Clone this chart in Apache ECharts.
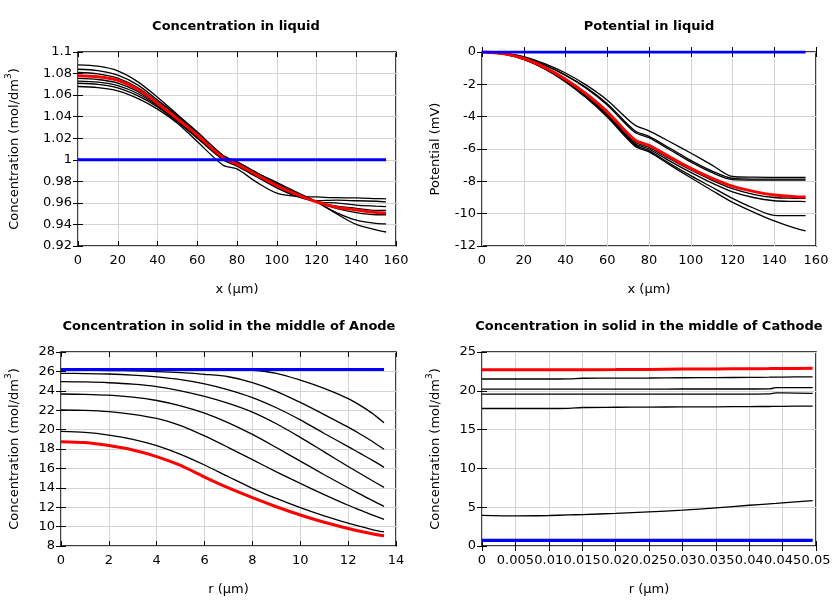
<!DOCTYPE html>
<html><head><meta charset="utf-8">
<script src="https://cdn.jsdelivr.net/npm/echarts@6/dist/echarts.min.js"></script>
<style>html,body{margin:0;padding:0;background:#fff}#c{width:840px;height:600px}</style>
</head><body><div id="c"></div><script>
// ---------- Panel 1: Concentration in liquid ----------
const liqX = [0,10,20,30,40,50,60,73,80,90,100,110,120,130,140,150,155];
const liqConcInit = [1,1,1,1,1,1,1,1,1,1,1,1,1,1,1,1,1];
const liqConcA = [1.088,1.0868,1.0825,1.0725,1.058,1.042,1.026,1.004,0.998,0.988,0.979,0.970,0.961,0.950,0.940,0.935,0.933];
const liqConcB = [1.084,1.0828,1.0785,1.0695,1.0555,1.041,1.025,1.004,0.998,0.988,0.978,0.969,0.961,0.951,0.944,0.941,0.9405];
const liqConcC = [1.081,1.0798,1.0758,1.067,1.054,1.040,1.025,1.003,0.997,0.987,0.977,0.968,0.961,0.955,0.951,0.949,0.949];
const liqConcE = [1.0755,1.0745,1.0712,1.0635,1.051,1.037,1.022,1.001,0.995,0.985,0.975,0.967,0.961,0.957,0.955,0.953,0.953];
const liqConcF = [1.073,1.072,1.0688,1.0615,1.050,1.036,1.021,1.001,0.995,0.985,0.975,0.967,0.961,0.960,0.958,0.957,0.9566];
const liqConcG = [1.071,1.070,1.0668,1.0595,1.049,1.035,1.020,1.000,0.994,0.984,0.974,0.966,0.962,0.9625,0.962,0.9615,0.961];
const liqConcH = [1.068,1.067,1.064,1.057,1.047,1.034,1.017,0.995,0.9915,0.979,0.969,0.966,0.9655,0.9648,0.9646,0.964,0.9637];
const liqConcFinal = [1.078,1.077,1.0738,1.0655,1.0525,1.038,1.023,1.002,0.996,0.986,0.976,0.968,0.961,0.956,0.9535,0.951,0.9507];

// ---------- Panel 2: Potential in liquid ----------
const potInit = [0,0,0,0,0,0,0,0,0,0,0,0,0,0,0,0,0];
const potA = [0,-0.07,-0.28,-0.72,-1.30,-2.05,-2.98,-4.50,-4.88,-5.55,-6.25,-6.98,-7.70,-7.74,-7.75,-7.75,-7.75];
const potB = [0,-0.08,-0.32,-0.80,-1.42,-2.20,-3.20,-4.85,-5.22,-5.95,-6.70,-7.35,-7.82,-7.86,-7.86,-7.86,-7.86];
const potC = [0,-0.08,-0.33,-0.82,-1.45,-2.25,-3.28,-4.95,-5.30,-6.05,-6.80,-7.45,-7.90,-7.93,-7.93,-7.93,-7.93];
const potD = [0,-0.10,-0.42,-0.98,-1.72,-2.65,-3.78,-5.55,-5.90,-6.62,-7.30,-7.92,-8.45,-8.80,-9.00,-9.05,-9.06];
const potE = [0,-0.11,-0.44,-1.00,-1.76,-2.72,-3.88,-5.65,-6.00,-6.75,-7.45,-8.10,-8.65,-9.00,-9.20,-9.24,-9.25];
const potF = [0,-0.11,-0.45,-1.03,-1.80,-2.78,-3.95,-5.72,-6.10,-6.90,-7.65,-8.35,-9.05,-9.65,-10.10,-10.12,-10.12];
const potG = [0,-0.12,-0.46,-1.05,-1.85,-2.85,-4.02,-5.80,-6.18,-6.98,-7.78,-8.55,-9.30,-9.90,-10.45,-10.90,-11.07];
const potFinal = [0,-0.10,-0.40,-0.95,-1.68,-2.60,-3.70,-5.42,-5.78,-6.50,-7.20,-7.80,-8.30,-8.62,-8.85,-8.95,-8.97];

// ---------- Panel 3: Anode solid concentration ----------
const anR = [0,1,2,3,4,5,6,7,8,9,10,11,12,12.5,13,13.5];
const anInit = [26.2,26.2,26.2,26.2,26.2,26.2,26.2,26.2,26.2,26.2,26.2,26.2,26.2,26.2,26.2,26.2];
const an1 = [26.2,26.2,26.2,26.2,26.2,26.2,26.2,26.19,26.12,25.8,25.1,24.25,23.2,22.5,21.7,20.7];
const an2 = [26.12,26.11,26.09,26.05,25.98,25.87,25.7,25.45,24.85,23.95,22.8,21.55,20.25,19.55,18.8,17.97];
const an3 = [25.8,25.78,25.73,25.62,25.43,25.15,24.72,24.1,23.3,22.25,21.0,19.6,18.25,17.55,16.85,16.11];
const an4 = [24.94,24.91,24.83,24.68,24.43,24.0,23.42,22.7,21.8,20.6,19.2,17.7,16.2,15.47,14.75,14.05];
const an5 = [23.67,23.64,23.55,23.35,23.0,22.45,21.7,20.7,19.5,18.15,16.75,15.35,14.0,13.35,12.7,12.08];
const an6 = [22.02,21.98,21.85,21.58,21.15,20.42,19.35,18.15,16.9,15.65,14.45,13.3,12.2,11.7,11.2,10.75];
const an7 = [19.82,19.72,19.44,19.0,18.35,17.45,16.35,15.14,13.95,12.9,11.95,11.1,10.35,10.02,9.7,9.45];
const anFinal = [18.76,18.66,18.35,17.9,17.22,16.3,15.1,13.98,12.98,12.05,11.2,10.45,9.8,9.52,9.27,9.05];

// ---------- Panel 4: Cathode solid concentration ----------
const caR = [0,0.005,0.01,0.013,0.015,0.02,0.025,0.03,0.035,0.04,0.043,0.044,0.045,0.0495];
const caInit = [0.72,0.72,0.72,0.72,0.72,0.72,0.72,0.72,0.72,0.72,0.72,0.72,0.72,0.72];
const ca1 = [21.52,21.52,21.52,21.53,21.62,21.63,21.65,21.68,21.7,21.73,21.75,21.76,21.77,21.8];
const ca2 = [20.22,20.22,20.22,20.22,20.22,20.22,20.22,20.23,20.23,20.23,20.25,20.4,20.42,20.42];
const ca3 = [19.57,19.57,19.57,19.57,19.57,19.57,19.57,19.58,19.58,19.58,19.6,19.74,19.72,19.66];
const ca4 = [17.72,17.72,17.72,17.73,17.85,17.88,17.9,17.92,17.94,17.97,17.98,17.99,18.0,18.03];
const ca5 = [3.95,3.88,3.93,4.0,4.05,4.2,4.4,4.62,4.92,5.25,5.42,5.48,5.55,5.84];
const ca6 = [0.85,0.85,0.85,0.85,0.85,0.85,0.85,0.85,0.85,0.85,0.85,0.85,0.85,0.85];
const caFinal = [22.72,22.72,22.72,22.72,22.72,22.73,22.76,22.8,22.82,22.85,22.86,22.87,22.88,22.9];

// ---------- Axis definitions ----------
const titles = ['Concentration in liquid','Potential in liquid','Concentration in solid in the middle of Anode','Concentration in solid in the middle of Cathode'];
const xNames = ['x (µm)','x (µm)','r (µm)','r (µm)'];
const xRanges = [[0,160,20],[0,160,20],[0,14,2],[0,0.05,0.005]];
const yRanges = [[0.92,1.1,0.02],[-12,0,2],[8,28,2],[0,25,5]];
const yNames = ['conc','Potential (mV)','conc','conc'];

const FONT = 'DejaVu Sans';
const grids = [
  {left:78, top:52, width:318, height:194},
  {left:482, top:52, width:334, height:194},
  {left:61, top:352, width:335, height:194},
  {left:482, top:352, width:334, height:194}
];
const yNameGaps = [57,40,40,40];
const titleCenters = [[236,20],[649,20],[229,320],[649,320]];

const xAxes = [], yAxes = [];
grids.forEach((g,i)=>{
  const [xmin,xmax,xint] = xRanges[i];
  const [ymin,ymax,yint] = yRanges[i];
  xAxes.push({type:'value', gridIndex:i, min:xmin, max:xmax, interval:xint, position:'bottom',
    name:xNames[i], nameLocation:'middle', nameGap:37,
    nameTextStyle:{fontFamily:FONT, fontSize:13, color:'#000'},
    axisLine:{show:false}, axisTick:{show:true, inside:true, length:5, lineStyle:{color:'#000'}},
    axisLabel:{fontFamily:FONT, fontSize:13, color:'#000', margin:8, hideOverlap:false},
    splitLine:{show:true, lineStyle:{color:'#d4d4d4', width:1}}});
  xAxes.push({type:'value', gridIndex:i, min:xmin, max:xmax, interval:xint, position:'top',
    axisLine:{show:false}, axisTick:{show:true, inside:true, length:5, lineStyle:{color:'#000'}},
    axisLabel:{show:false}, splitLine:{show:false}});
  const yName = yNames[i]==='conc' ? '{a|Concentration (mol/dm}{s|3}{a|)}' : '{a|'+yNames[i]+'}';
  yAxes.push({type:'value', gridIndex:i, min:ymin, max:ymax, interval:yint, position:'left',
    name:yName, nameLocation:'middle', nameGap:yNameGaps[i],
    nameTextStyle:{fontFamily:FONT, fontSize:13, color:'#000',
      rich:{a:{fontFamily:FONT, fontSize:13, color:'#000', lineHeight:17, verticalAlign:'bottom'},
            s:{fontFamily:FONT, fontSize:9, color:'#000', lineHeight:17, verticalAlign:'top'}}},
    axisLine:{show:false}, axisTick:{show:true, inside:true, length:5, lineStyle:{color:'#000'}},
    axisLabel:{fontFamily:FONT, fontSize:13, color:'#000', margin:6},
    splitLine:{show:true, lineStyle:{color:'#d4d4d4', width:1}}});
  yAxes.push({type:'value', gridIndex:i, min:ymin, max:ymax, interval:yint, position:'right',
    axisLine:{show:false}, axisTick:{show:true, inside:true, length:5, lineStyle:{color:'#000'}},
    axisLabel:{show:false}, splitLine:{show:false}});
});

function pairs(xs, ys){ return xs.map((x,k)=>[x, ys[k]]); }
const series = [];
function addLine(panel, xs, ys, kind){
  const st = kind==='red' ? {color:'#ff0000', width:3} : kind==='blue' ? {color:'#0000ff', width:3} : {color:'#000000', width:1.3};
  series.push({type:'line', xAxisIndex:panel*2, yAxisIndex:panel*2, data:pairs(xs,ys),
    showSymbol:false, symbol:'none', smooth:0.3, silent:true,
    lineStyle:st, itemStyle:{color:st.color}, z: kind==='black'?2:(kind==='red'?3:4)});
}
[liqConcA,liqConcB,liqConcC,liqConcE,liqConcF,liqConcG,liqConcH].forEach(s=>addLine(0,liqX,s,'black'));
addLine(0,liqX,liqConcFinal,'red'); addLine(0,liqX,liqConcInit,'blue');
[potA,potB,potC,potD,potE,potF,potG].forEach(s=>addLine(1,liqX,s,'black'));
addLine(1,liqX,potFinal,'red'); addLine(1,liqX,potInit,'blue');
[an1,an2,an3,an4,an5,an6,an7].forEach(s=>addLine(2,anR,s,'black'));
addLine(2,anR,anFinal,'red'); addLine(2,anR,anInit,'blue');
[ca1,ca2,ca3,ca4,ca5,ca6].forEach(s=>addLine(3,caR,s,'black'));
addLine(3,caR,caFinal,'red'); addLine(3,caR,caInit,'blue');

const chart = echarts.init(document.getElementById('c'), null, {renderer:'canvas'});
chart.setOption({
  animation:false,
  backgroundColor:'#ffffff',
  title: titles.map((t,i)=>({text:t, left:titleCenters[i][0], top:titleCenters[i][1], textAlign:'center', padding:0,
    textStyle:{fontFamily:FONT, fontSize:13, fontWeight:'bold', color:'#000'}})),
  grid: grids.map(g=>Object.assign({show:true, borderColor:'#000', borderWidth:1.5, backgroundColor:'transparent', containLabel:false}, g)),
  xAxis: xAxes,
  yAxis: yAxes,
  series: series
});
</script></body></html>
